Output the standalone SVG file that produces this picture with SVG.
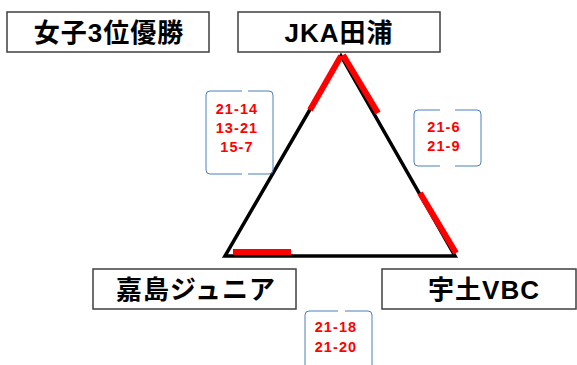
<svg xmlns="http://www.w3.org/2000/svg" width="577" height="365" viewBox="0 0 577 365">
<style>
.box{fill:#fff;stroke:#3f3f3f;stroke-width:1.5}
.name{font-family:"Liberation Sans","Noto Sans CJK JP",sans-serif;font-weight:bold;font-size:26px;fill:#000;text-anchor:middle;letter-spacing:1px}
.score{font-family:"Liberation Sans","Noto Sans CJK JP",sans-serif;font-weight:bold;font-size:14.5px;fill:#ff0000;text-anchor:middle;letter-spacing:1.1px}
.br{fill:none;stroke:#4a7ebb;stroke-width:1}
.tri{fill:none;stroke:#000;stroke-width:3.5;stroke-linejoin:miter}
.win{stroke:#ff0000;stroke-width:6;fill:none}
</style>
<rect width="577" height="365" fill="#fff"/>
<g id="title">
<rect class="box" x="7" y="12" width="202" height="40"/>
<text class="name" x="109" y="42">女子3位優勝</text>
</g>
<g id="node-jka">
<rect class="box" x="238" y="12" width="202" height="40"/>
<text class="name" x="339" y="42">JKA田浦</text>
</g>
<g id="node-kashima">
<rect class="box" x="93" y="269" width="203" height="40"/>
<text class="name" x="196" y="299">嘉島ジュニア</text>
</g>
<g id="node-uto">
<rect class="box" x="382" y="269" width="194" height="40"/>
<text class="name" x="484" y="299">宇土VBC</text>
</g>
<g id="connectors">
<polygon class="tri" points="341,56 225,256 455,256"/>
<line class="win" x1="341" y1="56" x2="310" y2="110"/>
<line class="win" x1="343" y1="55" x2="378" y2="113"/>
<line class="win" x1="420" y1="193" x2="456" y2="253"/>
<line class="win" x1="233" y1="252" x2="291" y2="252"/>
</g>
<g id="score-jka-kashima">
<path class="br" d="M242 91 L210 91 Q206 91 206 95 L206 170 Q206 174 210 174 L242 174"/>
<path class="br" d="M248 91 L269 91 Q273 91 273 95 L273 170 Q273 174 269 174 L248 174"/>
<text class="score" x="237" y="114">21-14</text>
<text class="score" x="237" y="133">13-21</text>
<text class="score" x="237" y="152">15-7</text>
</g>
<g id="score-jka-uto">
<path class="br" d="M440 110 L418 110 Q414 110 414 114 L414 162 Q414 166 418 166 L440 166"/>
<path class="br" d="M455 110 L477 110 Q481 110 481 114 L481 162 Q481 166 477 166 L455 166"/>
<text class="score" x="444" y="132">21-6</text>
<text class="score" x="444" y="151">21-9</text>
</g>
<g id="score-kashima-uto">
<path class="br" d="M338 311 L309 311 Q305 311 305 315 L305 372"/>
<path class="br" d="M345 311 L368 311 Q372 311 372 315 L372 372"/>
<text class="score" x="336" y="332">21-18</text>
<text class="score" x="336" y="352">21-20</text>
</g>
</svg>
